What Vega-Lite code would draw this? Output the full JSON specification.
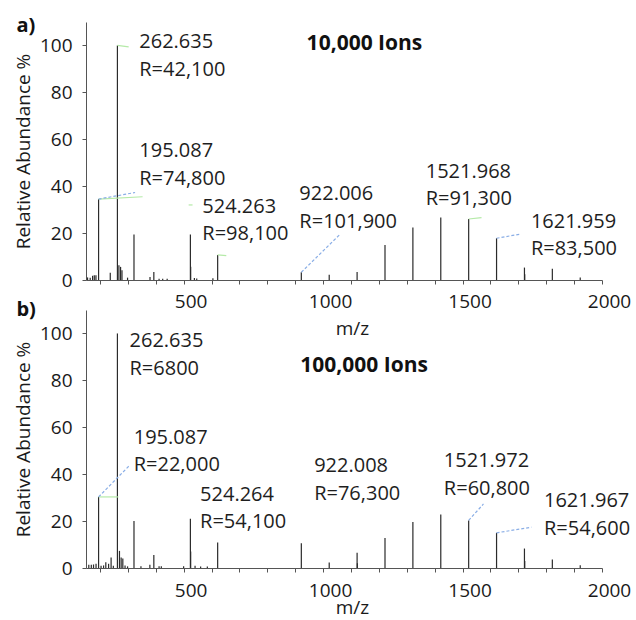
{
  "$schema": "https://vega.github.io/schema/vega-lite/v6.json",
  "padding": {"left": 14, "top": 16, "right": 2, "bottom": 4},
  "background": "white",
  "config": {
    "view": {"stroke": null},
    "font": "Open Sans",
    "axis": {"grid": false, "domainColor": "#555", "tickColor": "#555", "labelFont": "Open Sans", "labelFontSize": 19, "labelColor": "#1a1a1a", "titleFont": "Open Sans", "titleFontSize": 19, "titleFontWeight": "normal", "titleColor": "#1a1a1a", "labelOverlap": false},
    "title": {"font": "Open Sans", "fontSize": 20, "fontWeight": "bold", "anchor": "start", "frame": "bounds", "color": "#111", "offset": 0, "baseline": "alphabetic"}
  },
  "datasets": {
    "peaks": [
      {"panel": "a", "mz": 155.6, "ab": 1.1}, {"panel": "a", "mz": 165, "ab": 1.0}, {"panel": "a", "mz": 173.6, "ab": 1.8}, {"panel": "a", "mz": 179.7, "ab": 2.0}, {"panel": "a", "mz": 185.7, "ab": 2.0},
      {"panel": "a", "mz": 195.087, "ab": 34.5}, {"panel": "a", "mz": 237, "ab": 3.1}, {"panel": "a", "mz": 262.635, "ab": 100}, {"panel": "a", "mz": 268, "ab": 6.3}, {"panel": "a", "mz": 274, "ab": 5.6}, {"panel": "a", "mz": 279, "ab": 4.2}, {"panel": "a", "mz": 299, "ab": 1.0},
      {"panel": "a", "mz": 322.05, "ab": 19.4}, {"panel": "a", "mz": 379.5, "ab": 1.3}, {"panel": "a", "mz": 393.2, "ab": 3.4}, {"panel": "a", "mz": 412, "ab": 0.5}, {"panel": "a", "mz": 425, "ab": 0.5}, {"panel": "a", "mz": 441, "ab": 0.5},
      {"panel": "a", "mz": 524.264, "ab": 19.4}, {"panel": "a", "mz": 525.27, "ab": 5.7}, {"panel": "a", "mz": 538.6, "ab": 0.8}, {"panel": "a", "mz": 547, "ab": 0.6}, {"panel": "a", "mz": 605, "ab": 0.7}, {"panel": "a", "mz": 622.03, "ab": 10.7},
      {"panel": "a", "mz": 922.01, "ab": 3.3}, {"panel": "a", "mz": 1021.99, "ab": 2.2}, {"panel": "a", "mz": 1121.99, "ab": 3.4}, {"panel": "a", "mz": 1221.99, "ab": 14.9}, {"panel": "a", "mz": 1321.98, "ab": 22.4}, {"panel": "a", "mz": 1421.98, "ab": 26.6},
      {"panel": "a", "mz": 1521.97, "ab": 26.0}, {"panel": "a", "mz": 1621.96, "ab": 17.8}, {"panel": "a", "mz": 1721.96, "ab": 5.3}, {"panel": "a", "mz": 1722.96, "ab": 2.5}, {"panel": "a", "mz": 1821.95, "ab": 4.8}, {"panel": "a", "mz": 1921.95, "ab": 1.1},
      {"panel": "b", "mz": 160, "ab": 1.4}, {"panel": "b", "mz": 169, "ab": 1.4}, {"panel": "b", "mz": 177, "ab": 1.5}, {"panel": "b", "mz": 186, "ab": 1.8}, {"panel": "b", "mz": 195.087, "ab": 30.3}, {"panel": "b", "mz": 204, "ab": 1.0},
      {"panel": "b", "mz": 213, "ab": 1.1}, {"panel": "b", "mz": 221, "ab": 2.4}, {"panel": "b", "mz": 231, "ab": 1.8}, {"panel": "b", "mz": 240, "ab": 4.5}, {"panel": "b", "mz": 248, "ab": 1.0}, {"panel": "b", "mz": 262.635, "ab": 100},
      {"panel": "b", "mz": 270, "ab": 7.3}, {"panel": "b", "mz": 276, "ab": 4.5}, {"panel": "b", "mz": 282, "ab": 4.1}, {"panel": "b", "mz": 290, "ab": 1.1}, {"panel": "b", "mz": 299, "ab": 0.7}, {"panel": "b", "mz": 322.05, "ab": 20.0},
      {"panel": "b", "mz": 347, "ab": 0.7}, {"panel": "b", "mz": 379, "ab": 1.4}, {"panel": "b", "mz": 393.2, "ab": 5.5}, {"panel": "b", "mz": 412, "ab": 0.7}, {"panel": "b", "mz": 420, "ab": 0.7}, {"panel": "b", "mz": 500, "ab": 0.7},
      {"panel": "b", "mz": 524.264, "ab": 21.0}, {"panel": "b", "mz": 525.27, "ab": 7.0}, {"panel": "b", "mz": 541, "ab": 1.0}, {"panel": "b", "mz": 561, "ab": 0.6}, {"panel": "b", "mz": 585, "ab": 0.6}, {"panel": "b", "mz": 622.03, "ab": 10.9},
      {"panel": "b", "mz": 922.01, "ab": 10.6}, {"panel": "b", "mz": 1021.99, "ab": 2.3}, {"panel": "b", "mz": 1121.99, "ab": 6.5}, {"panel": "b", "mz": 1122.99, "ab": 2.0}, {"panel": "b", "mz": 1221.99, "ab": 12.8}, {"panel": "b", "mz": 1321.98, "ab": 19.6},
      {"panel": "b", "mz": 1421.98, "ab": 22.8}, {"panel": "b", "mz": 1521.97, "ab": 20.3}, {"panel": "b", "mz": 1621.96, "ab": 15.0}, {"panel": "b", "mz": 1721.96, "ab": 8.3}, {"panel": "b", "mz": 1722.96, "ab": 3.0}, {"panel": "b", "mz": 1821.95, "ab": 3.6}, {"panel": "b", "mz": 1921.95, "ab": 1.2}
    ],
    "labels": [
      {"panel": "a", "kind": "label", "mz": 341, "ab": 98.9, "txt": "262.635\nR=42,100"},
      {"panel": "a", "kind": "label", "mz": 341, "ab": 52.4, "txt": "195.087\nR=74,800"},
      {"panel": "a", "kind": "label", "mz": 567, "ab": 28.6, "txt": "524.263\nR=98,100"},
      {"panel": "a", "kind": "label", "mz": 915, "ab": 34.1, "txt": "922.006\nR=101,900"},
      {"panel": "a", "kind": "label", "mz": 1368, "ab": 43.5, "txt": "1521.968\nR=91,300"},
      {"panel": "a", "kind": "label", "mz": 1745, "ab": 22.2, "txt": "1621.959\nR=83,500"},
      {"panel": "a", "kind": "title", "mz": 941, "ab": 98, "txt": "10,000 Ions"},
      {"panel": "b", "kind": "label", "mz": 306, "ab": 94.2, "txt": "262.635\nR=6800"},
      {"panel": "b", "kind": "label", "mz": 321, "ab": 52.9, "txt": "195.087\nR=22,000"},
      {"panel": "b", "kind": "label", "mz": 559, "ab": 28.6, "txt": "524.264\nR=54,100"},
      {"panel": "b", "kind": "label", "mz": 968, "ab": 40.9, "txt": "922.008\nR=76,300"},
      {"panel": "b", "kind": "label", "mz": 1433, "ab": 43.0, "txt": "1521.972\nR=60,800"},
      {"panel": "b", "kind": "label", "mz": 1792, "ab": 26.0, "txt": "1621.967\nR=54,600"},
      {"panel": "b", "kind": "title", "mz": 918, "ab": 83.6, "txt": "100,000 Ions"}
    ],
    "links": [
      {"panel": "a", "kind": "blue", "mz1": 195.087, "ab1": 34.5, "mz2": 326, "ab2": 37.3},
      {"panel": "a", "kind": "blue", "mz1": 922.01, "ab1": 3.3, "mz2": 1061, "ab2": 19.5},
      {"panel": "a", "kind": "blue", "mz1": 1621.96, "ab1": 17.8, "mz2": 1709, "ab2": 19.6},
      {"panel": "a", "kind": "green", "mz1": 195.087, "ab1": 34.5, "mz2": 353, "ab2": 35.5},
      {"panel": "a", "kind": "green", "mz1": 262.635, "ab1": 100, "mz2": 303, "ab2": 99.4},
      {"panel": "a", "kind": "green", "mz1": 518, "ab1": 32, "mz2": 532, "ab2": 32},
      {"panel": "a", "kind": "green", "mz1": 622.03, "ab1": 10.7, "mz2": 653, "ab2": 10.4},
      {"panel": "a", "kind": "green", "mz1": 1521.97, "ab1": 26.0, "mz2": 1568, "ab2": 26.6},
      {"panel": "b", "kind": "blue", "mz1": 195.087, "ab1": 30.3, "mz2": 305, "ab2": 43.6},
      {"panel": "b", "kind": "blue", "mz1": 1521.97, "ab1": 20.3, "mz2": 1575, "ab2": 27.3},
      {"panel": "b", "kind": "blue", "mz1": 1621.96, "ab1": 15.0, "mz2": 1747, "ab2": 17.4},
      {"panel": "b", "kind": "green", "mz1": 195.087, "ab1": 30.3, "mz2": 266, "ab2": 30.3}
    ]
  },
  "spacing": 30,
  "bounds": "flush",
  "vconcat": [
    {
      "width": 516, "height": 258,
      "title": {"text": "a)", "dy": 18, "dx": 2},
      "resolve": {"axis": {"x": "independent"}},
      "layer": [
        {
          "data": {"name": "peaks"},
          "transform": [{"filter": "datum.panel === 'a'"}],
          "mark": {"type": "rule", "color": "#2b2b2b", "strokeWidth": 1.2},
          "encoding": {
            "x": {"field": "mz", "type": "quantitative", "title": "m/z", "scale": {"domain": [150, 2000], "nice": false, "zero": false},
                  "axis": {"orient": "bottom", "values": [500, 1000, 1500, 2000], "format": "d", "tickSize": 4, "labelOffset": 7, "labelPadding": 8, "titlePadding": 8, "labelOverlap": false, "labelBound": false, "labelFlush": false, "titleX": 266}},
            "y": {"field": "ab", "type": "quantitative", "title": "Relative Abundance %", "scale": {"domain": [0, 110], "nice": false},
                  "axis": {"values": [0, 5, 10, 15, 20, 25, 30, 35, 40, 45, 50, 55, 60, 65, 70, 75, 80, 85, 90, 95, 100, 105], "labelExpr": "datum.value % 20 === 0 ? datum.label : ''", "tickSize": 4, "labelPadding": 10, "titlePadding": 6, "labelOverlap": false}},
            "y2": {"datum": 0}
          }
        },
        {
          "data": {"name": "links"},
          "transform": [{"filter": "datum.panel === 'a' && datum.kind === 'green'"}],
          "mark": {"type": "rule", "color": "#b5eaa8", "strokeWidth": 1.2},
          "encoding": {
            "x": {"field": "mz1", "type": "quantitative", "axis": {"orient": "bottom", "values": [200, 300, 400, 600, 700, 800, 900, 1100, 1200, 1300, 1400, 1600, 1700, 1800, 1900], "labels": false, "domain": false, "tickSize": 4, "title": null}},
            "y": {"field": "ab1", "type": "quantitative", "title": "Relative Abundance %"},
            "x2": {"field": "mz2"}, "y2": {"field": "ab2"}
          }
        },
        {
          "data": {"name": "links"},
          "transform": [{"filter": "datum.panel === 'a' && datum.kind === 'blue'"}],
          "mark": {"type": "rule", "color": "#8aaee6", "strokeWidth": 1.2, "strokeDash": [3, 2]},
          "encoding": {
            "x": {"field": "mz1", "type": "quantitative", "axis": null}, "y": {"field": "ab1", "type": "quantitative", "title": "Relative Abundance %"},
            "x2": {"field": "mz2"}, "y2": {"field": "ab2"}
          }
        },
        {
          "data": {"name": "labels"},
          "transform": [{"filter": "datum.panel === 'a' && datum.kind === 'label'"}],
          "mark": {"type": "text", "align": "left", "baseline": "alphabetic", "fontSize": 20, "lineBreak": "\n", "lineHeight": 27.5, "color": "#1e1e1e", "font": "Open Sans"},
          "encoding": {
            "x": {"field": "mz", "type": "quantitative", "axis": null}, "y": {"field": "ab", "type": "quantitative", "title": "Relative Abundance %"},
            "text": {"field": "txt"}
          }
        },
        {
          "data": {"name": "labels"},
          "transform": [{"filter": "datum.panel === 'a' && datum.kind === 'title'"}],
          "mark": {"type": "text", "align": "left", "baseline": "alphabetic", "fontSize": 21, "fontWeight": "bold", "color": "#111", "font": "Open Sans"},
          "encoding": {
            "x": {"field": "mz", "type": "quantitative", "axis": null}, "y": {"field": "ab", "type": "quantitative", "title": "Relative Abundance %"},
            "text": {"field": "txt"}
          }
        }
      ]
    },
    {
      "width": 516, "height": 258,
      "title": {"text": "b)", "dy": 13.5, "dx": 2},
      "resolve": {"axis": {"x": "independent"}},
      "layer": [
        {
          "data": {"name": "peaks"},
          "transform": [{"filter": "datum.panel === 'b'"}],
          "mark": {"type": "rule", "color": "#2b2b2b", "strokeWidth": 1.2},
          "encoding": {
            "x": {"field": "mz", "type": "quantitative", "title": "m/z", "scale": {"domain": [150, 2000], "nice": false, "zero": false},
                  "axis": {"orient": "bottom", "values": [500, 1000, 1500, 2000], "format": "d", "tickSize": 4, "labelOffset": 7, "labelPadding": 9, "titlePadding": -2, "labelOverlap": false, "labelBound": false, "labelFlush": false, "titleX": 266}},
            "y": {"field": "ab", "type": "quantitative", "title": "Relative Abundance %", "scale": {"domain": [0, 110], "nice": false},
                  "axis": {"values": [0, 5, 10, 15, 20, 25, 30, 35, 40, 45, 50, 55, 60, 65, 70, 75, 80, 85, 90, 95, 100, 105], "labelExpr": "datum.value % 20 === 0 ? datum.label : ''", "tickSize": 4, "labelPadding": 10, "titlePadding": 6, "labelOverlap": false}},
            "y2": {"datum": 0}
          }
        },
        {
          "data": {"name": "links"},
          "transform": [{"filter": "datum.panel === 'b' && datum.kind === 'green'"}],
          "mark": {"type": "rule", "color": "#b5eaa8", "strokeWidth": 1.2},
          "encoding": {
            "x": {"field": "mz1", "type": "quantitative", "axis": {"orient": "bottom", "values": [200, 300, 400, 600, 700, 800, 900, 1100, 1200, 1300, 1400, 1600, 1700, 1800, 1900], "labels": false, "domain": false, "tickSize": 4, "title": null}},
            "y": {"field": "ab1", "type": "quantitative", "title": "Relative Abundance %"},
            "x2": {"field": "mz2"}, "y2": {"field": "ab2"}
          }
        },
        {
          "data": {"name": "links"},
          "transform": [{"filter": "datum.panel === 'b' && datum.kind === 'blue'"}],
          "mark": {"type": "rule", "color": "#8aaee6", "strokeWidth": 1.2, "strokeDash": [3, 2]},
          "encoding": {
            "x": {"field": "mz1", "type": "quantitative", "axis": null}, "y": {"field": "ab1", "type": "quantitative", "title": "Relative Abundance %"},
            "x2": {"field": "mz2"}, "y2": {"field": "ab2"}
          }
        },
        {
          "data": {"name": "labels"},
          "transform": [{"filter": "datum.panel === 'b' && datum.kind === 'label'"}],
          "mark": {"type": "text", "align": "left", "baseline": "alphabetic", "fontSize": 20, "lineBreak": "\n", "lineHeight": 27.5, "color": "#1e1e1e", "font": "Open Sans"},
          "encoding": {
            "x": {"field": "mz", "type": "quantitative", "axis": null}, "y": {"field": "ab", "type": "quantitative", "title": "Relative Abundance %"},
            "text": {"field": "txt"}
          }
        },
        {
          "data": {"name": "labels"},
          "transform": [{"filter": "datum.panel === 'b' && datum.kind === 'title'"}],
          "mark": {"type": "text", "align": "left", "baseline": "alphabetic", "fontSize": 21, "fontWeight": "bold", "color": "#111", "font": "Open Sans"},
          "encoding": {
            "x": {"field": "mz", "type": "quantitative", "axis": null}, "y": {"field": "ab", "type": "quantitative", "title": "Relative Abundance %"},
            "text": {"field": "txt"}
          }
        }
      ]
    }
  ]
}
